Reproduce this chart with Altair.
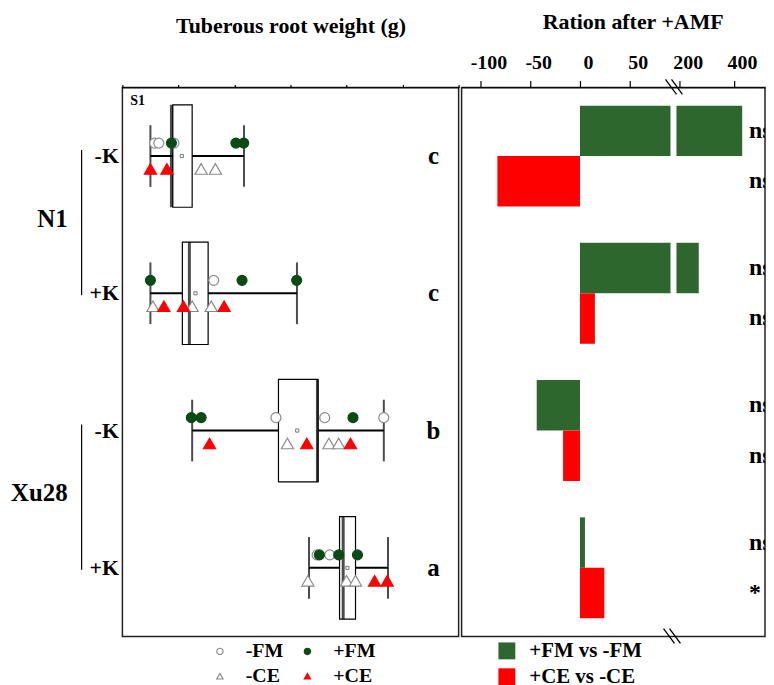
import altair as alt
import pandas as pd

FONT = "Liberation Serif"

groups = ["N1 -K", "N1 +K", "Xu28 -K", "Xu28 +K"]
letters = ["c", "c", "b", "a"]

# box-plot statistics (g)
whisk_lo = [0.0, 0.0, 14.9, 56.6]
q1 = [8.0, 11.4, 45.7, 67.5]
median = [7.5, 13.9, 59.6, 68.8]
q3 = [14.9, 20.6, 59.8, 73.2]
whisk_hi = [33.4, 52.3, 83.3, 84.8]
means = [11.2, 16.1, 52.4, 70.3]

# individual observations per group
minus_fm = [[1.5, 3.0, 8.4], [22.6], [44.8, 62.2, 83.3], [59.5, 64.0]]
plus_fm = [[7.5, 30.5, 33.3], [0.0, 32.7, 52.2], [14.6, 18.1, 72.3], [60.3, 67.2, 73.9]]
minus_ce = [[18.1, 23.2], [0.9, 14.9, 21.7], [48.9, 63.7, 67.2], [56.2, 70.0, 73.2]]
plus_ce = [[0.0, 5.9], [4.8, 11.8, 26.3], [21.1, 55.8, 71.4], [80.0, 84.5]]

# ratio after +AMF (%)
cmps = ["+FM vs -FM", "+CE vs -CE"]
ratio_fm = [430, 270, -43.5, 5]
ratio_ce = [-83, 15, -17, 24.5]
sig_fm = ["ns", "ns", "ns", "ns"]
sig_ce = ["ns", "ns", "ns", "*"]

left_ticks = list(range(-10, 111, 10))
right_ticks = [-100, -75, -50, -25, 0, 25, 50, 75, 200, 300, 400, 500]
right_major = [-100, -50, 0, 50, 200, 400]

GREEN_PT = "#0b4a14"
GREEN_BAR = "#2d672d"
RED = "#ff0000"
GRAY = "#8a8a8a"

types = ["-FM", "+FM", "-CE", "+CE"]
fill_range = ["white", GREEN_PT, "white", RED]
stroke_range = [GRAY, GREEN_PT, GRAY, RED]
shape_range = ["circle", "circle", "triangle-up", "triangle-up"]

box_df = pd.DataFrame(dict(group=groups, lo=whisk_lo, q1=q1, med=median, q3=q3,
                           hi=whisk_hi, mean=means, letter=letters))

rows = []
for name, arr in zip(types, [minus_fm, plus_fm, minus_ce, plus_ce]):
    for g, vals in zip(groups, arr):
        for v in vals:
            rows.append(dict(group=g, value=v, type=name))
pts = pd.DataFrame(rows)
fm_pts = pts[pts["type"].isin(["-FM", "+FM"])]
ce_pts = pts[pts["type"].isin(["-CE", "+CE"])]

ratio_df = pd.DataFrame(dict(
    group=groups * 2,
    cmp=[cmps[0]] * 4 + [cmps[1]] * 4,
    ratio=ratio_fm + ratio_ce,
    sig=sig_fm + sig_ce,
))

one = pd.DataFrame({"a": [0]})

# ---------------- left panel ----------------
ys = alt.Y("group:N", sort=groups,
           scale=alt.Scale(domain=groups, paddingInner=0, paddingOuter=0),
           axis=alt.Axis(title=None, labelExpr="split(datum.label, ' ')[1]",
                         ticks=False, domain=False, labelFont=FONT,
                         labelFontWeight="bold", labelFontSize=22,
                         labelPadding=4, labelColor="black"))
xs = alt.Scale(domain=[-10, 110], nice=False, zero=False)
xaxis = alt.Axis(orient="top", values=left_ticks, title="Tuberous root weight (g)",
                 labelExpr="datum.value % 20 === 0 ? datum.label : ''",
                 tickSize={"condition": {"test": "datum.value % 20 === 0", "value": 7}, "value": 3},
                 labelOverlap=False, grid=False, labelPadding=8, titlePadding=19)

base_box = alt.Chart(box_df)
whisker = base_box.mark_rule(strokeWidth=2, color="black").encode(
    x=alt.X("lo:Q", scale=xs, axis=xaxis), x2="hi:Q", y=ys)
cap_lo = base_box.mark_tick(size=62, thickness=2, color="black").encode(x="lo:Q", y=ys)
cap_hi = base_box.mark_tick(size=62, thickness=2, color="black").encode(x="hi:Q", y=ys)
box = base_box.mark_bar(size=103, fill="white", stroke="black", strokeWidth=1.2,
                        orient="horizontal").encode(x="q1:Q", x2="q3:Q", y=ys)
med = base_box.mark_tick(size=103, thickness=3, color="black").encode(x="med:Q", y=ys)
mean_pt = base_box.mark_point(shape="square", size=10, color="#777777", strokeWidth=1,
                              opacity=1).encode(x="mean:Q", y=ys)
let_txt = base_box.mark_text(font=FONT, fontSize=25, fontWeight="bold", color="black",
                             align="center", baseline="middle").encode(
    x=alt.datum(101), y=ys, text="letter:N")

leg = alt.Legend(orient="none", legendX=88, legendY=557, columns=2, direction="horizontal",
                 title=None, labelFont=FONT, labelFontSize=20, labelFontWeight="bold",
                 labelColor="black", symbolSize=40, symbolStrokeWidth=1.2,
                 labelOffset=16, columnPadding=14, rowPadding=5, padding=0)
shape_enc = alt.Shape("type:N", scale=alt.Scale(domain=types, range=shape_range), legend=leg)
fill_enc = alt.Fill("type:N", scale=alt.Scale(domain=types, range=fill_range), legend=leg)
stroke_enc = alt.Stroke("type:N", scale=alt.Scale(domain=types, range=stroke_range), legend=leg)

circles = alt.Chart(fm_pts).mark_point(filled=True, size=100, strokeWidth=1.2, opacity=1).encode(
    x="value:Q", y=ys, yOffset=alt.value(56), shape=shape_enc, fill=fill_enc, stroke=stroke_enc)
tris = alt.Chart(ce_pts).mark_point(filled=True, size=150, strokeWidth=1.2, opacity=1).encode(
    x="value:Q", y=ys, yOffset=alt.value(82), shape=shape_enc, fill=fill_enc, stroke=stroke_enc)

s1 = alt.Chart(one).mark_text(font=FONT, fontSize=14, fontWeight="bold", align="left",
                              baseline="middle", color="black").encode(
    x=alt.value(8), y=alt.value(14), text=alt.value("S1"))

geno_df = pd.DataFrame(dict(name=["N1", "Xu28"], first=[groups[0], groups[2]],
                            second=[groups[1], groups[3]]))
geno_txt = alt.Chart(geno_df).mark_text(font=FONT, fontSize=25, fontWeight="bold", align="right",
                                        baseline="middle", color="black", yOffset=63).encode(
    x=alt.value(-55), y=alt.Y("first:N", sort=groups), text="name:N")
geno_line = alt.Chart(geno_df).mark_rule(color="black", strokeWidth=1.2, yOffset=-6, y2Offset=2).encode(
    x=alt.value(-41), y=alt.Y("first:N", sort=groups), y2="second:N")

# invisible anchor that fixes the top-left corner of the whole drawing
anchor = alt.Chart(one).mark_rule(opacity=0, strokeWidth=0).encode(
    x=alt.value(-114), x2=alt.value(-114), y=alt.value(-77), y2=alt.value(-77))

left = alt.layer(whisker, cap_lo, cap_hi, box, med, mean_pt, circles, tris, let_txt, s1,
                 geno_txt, geno_line, anchor).properties(width=338, height=552)

# ---------------- right panel ----------------
RW = 305
ry = alt.Y("group:N", sort=groups,
           scale=alt.Scale(domain=groups, paddingInner=0.265, paddingOuter=0.133), axis=None)
ryo = alt.YOffset("cmp:N", sort=cmps, scale=alt.Scale(domain=cmps, paddingInner=0, paddingOuter=0))
rxs = alt.Scale(domain=[-119, 94, 177, 177 + (RW - 213) / 0.273], range=[0, 213, 213, RW],
                nice=False, zero=False)
major_test = " || ".join(f"datum.value === {v}" for v in right_major)
raxis = alt.Axis(orient="top", values=right_ticks, title="Ration after +AMF",
                 labelExpr=f"({major_test}) ? toString(datum.value) : ''",
                 tickSize={"condition": {"test": major_test, "value": 7}, "value": 3},
                 labelOverlap=False, labelOffset=8, grid=False, labelPadding=8,
                 titlePadding=19, titleX=172)

bars = alt.Chart(ratio_df).mark_bar(orient="horizontal").encode(
    x=alt.X("ratio:Q", scale=rxs, axis=raxis), x2=alt.datum(0), y=ry, yOffset=ryo,
    color=alt.Color("cmp:N", scale=alt.Scale(domain=cmps, range=[GREEN_BAR, RED]),
                    legend=alt.Legend(orient="none", legendX=376, legendY=556, title=None,
                                      symbolType="square", symbolSize=289, symbolStrokeWidth=0,
                                      labelFont=FONT, labelFontSize=21, labelFontWeight="bold",
                                      labelColor="black", labelOffset=12, rowPadding=4, padding=0)))
sig_txt = alt.Chart(ratio_df).mark_text(font=FONT, fontSize=24, fontWeight="bold", align="left",
                                        baseline="middle", color="black", clip=True).encode(
    x=alt.value(289), y=ry, yOffset=ryo, text="sig:N")
gap = alt.Chart(one).mark_rule(color="white", strokeWidth=6).encode(
    x=alt.datum(135), y=alt.value(5), y2=alt.value(547))

slash_layers = []
for (x1, y1, x2, y2) in [(205, -8, 216, 7), (211, -8, 222, 7),
                         (203, 544, 214, 559), (209, 544, 220, 559)]:
    slash_layers.append(alt.Chart(one).mark_rule(color="black", strokeWidth=1.3).encode(
        x=alt.value(x1), y=alt.value(y1), x2=alt.value(x2), y2=alt.value(y2)))

right = alt.layer(bars, gap, sig_txt, *slash_layers).properties(width=RW, height=552)

chart = alt.hconcat(left, right, spacing=0).properties(
    padding={"left": 0, "top": 0, "right": 0, "bottom": 0}
).configure_view(stroke="#222222", strokeWidth=1.5).configure_axis(
    labelFont=FONT, labelFontSize=20, labelFontWeight="bold", labelColor="black",
    titleFont=FONT, titleFontSize=22, titleFontWeight="bold", titleColor="black",
    domainColor="black", tickColor="black", tickWidth=1.2, domainWidth=1.2
)

chart.save("out.html", embed_options={"renderer": "svg", "actions": False})
